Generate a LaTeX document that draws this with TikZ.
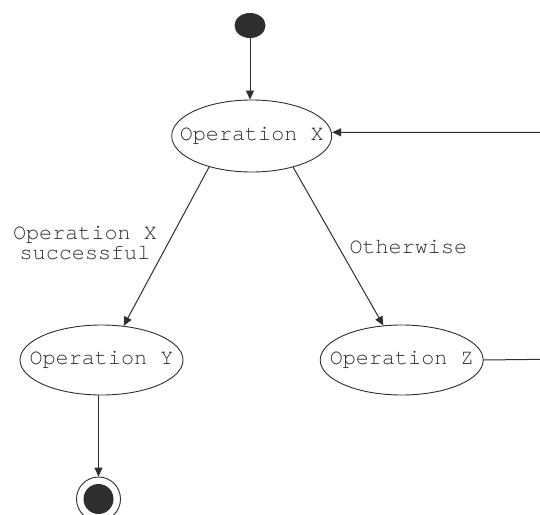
\documentclass[tikz,border=0pt]{standalone}
\usepackage{fontspec}
\setmonofont{TeX Gyre Cursor}
\usetikzlibrary{shapes.geometric,arrows.meta}
\definecolor{ink}{gray}{0.18}
\newcommand\diagramfont{\ttfamily\fontsize{21.8}{20.4}\selectfont}
\begin{document}
\begin{tikzpicture}[x=1pt,y=-1pt,
  state/.style={ellipse,draw=ink,line width=0.9pt,minimum width=163pt,
    minimum height=70pt,inner sep=0pt,
    label={[font=\diagramfont,text=ink,inner sep=0pt]center:#1}},
  flow/.style={draw=ink,line width=1pt,-{Triangle[length=9pt,width=8pt]}},
  guard/.style={font=\diagramfont,text=ink,inner sep=0pt}]
\useasboundingbox (0,0) rectangle (540,514);
\clip (0,0) rectangle (540,514);

% initial and final pseudo-states
\node[ellipse,fill=ink,minimum width=31pt,minimum height=25pt,inner sep=0pt] (start) at (250,25.5) {};
\node[circle,draw=ink,line width=0.9pt,minimum size=44pt,inner sep=0pt] (final) at (98.5,499) {};
\node[circle,fill=ink,minimum size=30pt,inner sep=0pt] (finaldot) at (final.center) {};

% activity states (the name is set as a centred label so the outline keeps its size)
\node[state={Operation X},minimum width=160pt,minimum height=72pt] (opx) at (251.7,136) {};
\node[state={Operation Y}] (opy) at (101.5,360) {};
\node[state={Operation Z}] (opz) at (401.7,360) {};

% guard labels
\node[guard,align=center] (lblok) at (85,243) {Operation X\\successful};
\node[guard,anchor=base west] (lblelse) at (349.3,253.3) {Otherwise};

% transitions
\coordinate (loopbot) at (543,359.3);
\coordinate (looptop) at (543,132.3);
\draw[flow] (start.south) -- (start.south |- opx.north);
\draw[flow] (opx.216) -- (opy.57);
\draw[flow] (opx.323.5) -- (opz.118);
\draw[flow] (final.north |- opy.south) -- (final.north);
\draw[flow] (opz.east) -- (loopbot) -- (looptop) -- (opx.east |- looptop);
\end{tikzpicture}
\end{document}
